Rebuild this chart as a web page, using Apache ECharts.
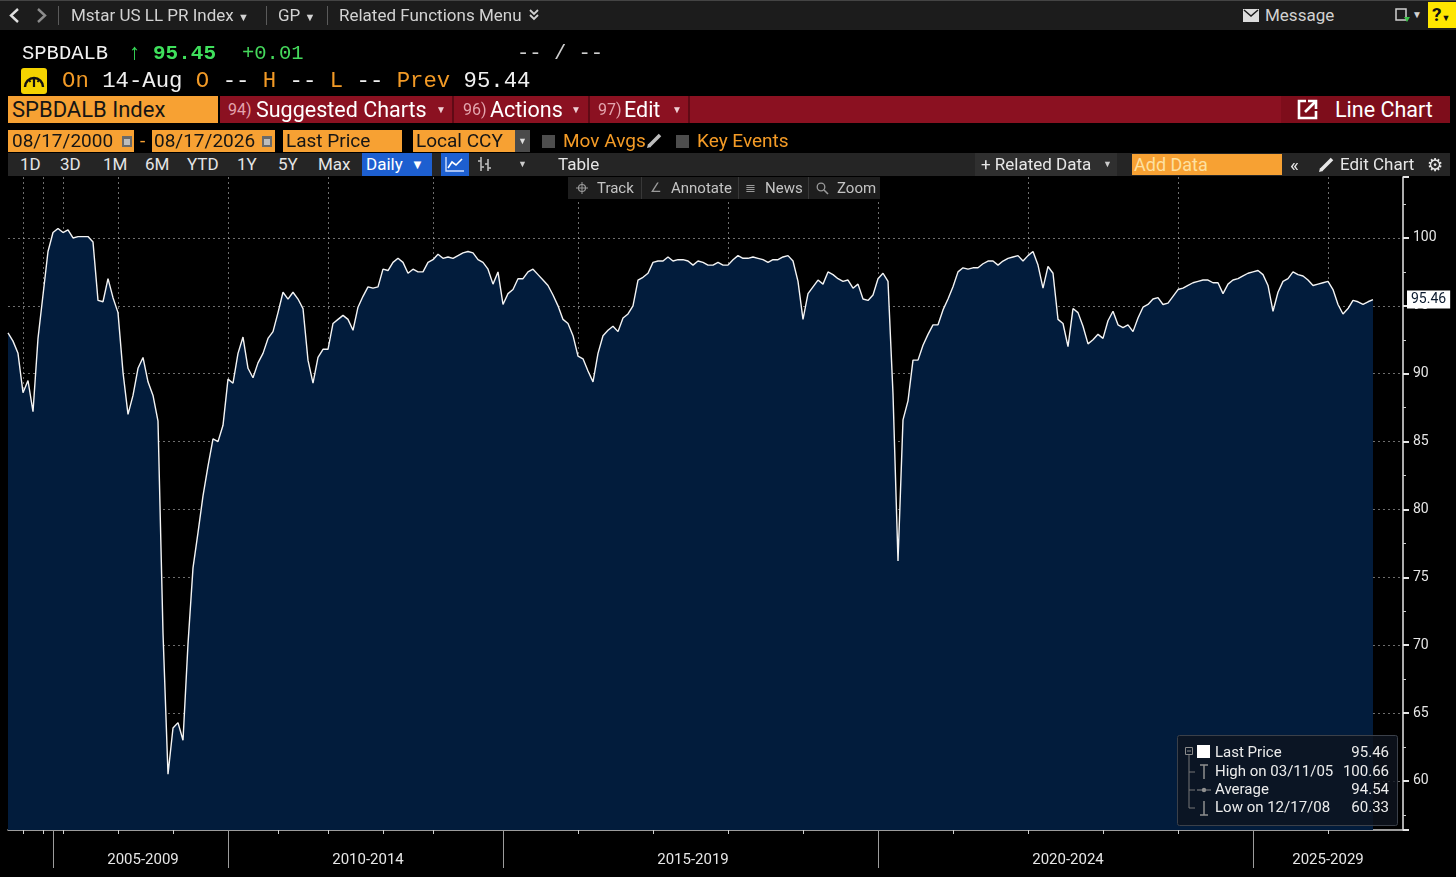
<!DOCTYPE html>
<html lang="en">
<head>
    <meta charset="UTF-8">
    <title>SPBDALB Index - Line Chart</title>
    <script src="https://cdn.jsdelivr.net/npm/echarts@6.0.0/dist/echarts.min.js"></script>
    <style>
        html, body { margin: 0; padding: 0; background: #000; }
        body { width: 1456px; height: 877px; overflow: hidden; position: relative; font-family: Roboto, 'Liberation Sans', sans-serif; }
        #chart { position: absolute; left: 0; top: 0; width: 1456px; height: 877px; }
        .ui { position: absolute; z-index: 2; }
        .t { position: absolute; z-index: 3; white-space: pre; }
        .mono { font-family: 'Liberation Mono', 'DejaVu Sans Mono', monospace; }
        .box { position: absolute; z-index: 2; box-sizing: border-box; white-space: pre; }
        .org { background: #f7a133; color: #151515; }
        .sep { position: absolute; z-index: 3; width: 1px; background: #5a5a5a; }
        .ob { color: #f29a26; }
        .wh { color: #f0f0f0; }
    </style>
</head>
<body>
<div id="chart"></div>

<!-- launchpad menu row -->
<div class="ui" style="left:0;top:0;width:1456px;height:30px;background:#1c1c1c;border-top:1px solid #444;box-sizing:border-box;"></div>
<svg class="ui" style="left:7px;top:7px" width="14" height="17"><polyline points="11,2 4,8.5 11,15" fill="none" stroke="#e0e0e0" stroke-width="2.4"/></svg>
<svg class="ui" style="left:35px;top:7px" width="14" height="17"><polyline points="3,2 10,8.5 3,15" fill="none" stroke="#8c8c8c" stroke-width="2.4"/></svg>
<div class="sep" style="left:58px;top:6px;height:19px"></div>
<span class="t" style="left:71px;top:0;line-height:30px;font-size:17px;color:#d2d2d2">Mstar US LL PR Index <span style="font-size:11px">▼</span></span>
<div class="sep" style="left:266px;top:6px;height:19px"></div>
<span class="t" style="left:278px;top:0;line-height:30px;font-size:17px;color:#d2d2d2">GP <span style="font-size:11px">▼</span></span>
<div class="sep" style="left:327px;top:6px;height:19px"></div>
<span class="t" style="left:339px;top:0;line-height:30px;font-size:17px;color:#d2d2d2">Related Functions Menu</span>
<svg class="ui" style="left:528px;top:8px" width="12" height="14"><polyline points="2,2 6,6 10,2" fill="none" stroke="#d2d2d2" stroke-width="1.8"/><polyline points="2,7 6,11 10,7" fill="none" stroke="#d2d2d2" stroke-width="1.8"/></svg>
<svg class="ui" style="left:1243px;top:9px" width="16" height="13"><rect x="0" y="0" width="16" height="13" fill="#dcdcdc"/><polyline points="1,1 8,7 15,1" fill="none" stroke="#1c1c1c" stroke-width="1.5"/></svg>
<span class="t" style="left:1265px;top:0;line-height:30px;font-size:17px;color:#d2d2d2">Message</span>
<svg class="ui" style="left:1395px;top:8px" width="16" height="15"><rect x="1" y="1" width="10" height="11" fill="none" stroke="#cfcfcf" stroke-width="1.5"/><polygon points="9,9 15,9 12,14" fill="#3cc24a"/></svg>
<span class="t" style="left:1412px;top:0;line-height:30px;font-size:10px;color:#d2d2d2">▼</span>
<div class="box" style="left:1428px;top:2px;width:28px;height:26px;background:#ffe600;color:#111;font-weight:bold;font-size:19px;line-height:26px;padding-left:4px">?<span style="font-size:9px">▼</span></div>

<!-- security line -->
<span class="t mono" style="left:22px;top:40px;line-height:28px;font-size:20.5px;color:#f2f2f2">SPBDALB</span>
<span class="t mono" style="left:128px;top:40px;line-height:28px;font-size:22px;color:#36d957">↑</span>
<span class="t mono" style="left:153px;top:40px;line-height:28px;font-size:21px;font-weight:bold;color:#3fe05c">95.45</span>
<span class="t mono" style="left:242px;top:40px;line-height:28px;font-size:20.5px;color:#45d95c">+0.01</span>
<span class="t mono" style="left:517px;top:40px;line-height:28px;font-size:20.5px;color:#cfcfcf">-- / --</span>
<div class="box" style="left:21px;top:68px;width:26px;height:26px;background:#f4d300;border-radius:3px"></div>
<svg class="ui" style="left:21px;top:68px;z-index:3" width="26" height="26"><path d="M4,19 A9,9 0 1 1 22,19" fill="none" stroke="#111" stroke-width="2.4"/><line x1="13" y1="19" x2="13" y2="9" stroke="#111" stroke-width="2.2"/><line x1="8" y1="12" x2="9.5" y2="14" stroke="#111" stroke-width="1.8"/><line x1="18" y1="12" x2="16.5" y2="14" stroke="#111" stroke-width="1.8"/></svg>
<span class="t mono" style="left:62px;top:67px;line-height:28px;font-size:22.3px"><span class="ob">On</span> <span class="wh">14-Aug</span> <span class="ob">O</span> <span class="wh">--</span> <span class="ob">H</span> <span class="wh">--</span> <span class="ob">L</span> <span class="wh">--</span> <span class="ob">Prev</span> <span class="wh">95.44</span></span>

<!-- function bar -->
<div class="box org" style="left:8px;top:96px;width:210px;height:27px;font-size:22px;line-height:27px;padding-left:4px">SPBDALB Index</div>
<div class="box" style="left:220px;top:96px;width:1230px;height:27px;background:#8b1121"></div>
<span class="t" style="left:228px;top:96px;line-height:27px;font-size:16px;color:#e3a4ad">94)</span>
<span class="t" style="left:256px;top:96px;line-height:27px;font-size:21.5px;color:#fff">Suggested Charts</span>
<span class="t" style="left:436px;top:96px;line-height:27px;font-size:10px;color:#f0d0d4">▼</span>
<div class="ui" style="left:452px;top:96px;width:2px;height:27px;background:#600a15;z-index:3"></div>
<span class="t" style="left:463px;top:96px;line-height:27px;font-size:16px;color:#e3a4ad">96)</span>
<span class="t" style="left:490px;top:96px;line-height:27px;font-size:21.5px;color:#fff">Actions</span>
<span class="t" style="left:571px;top:96px;line-height:27px;font-size:10px;color:#f0d0d4">▼</span>
<div class="ui" style="left:588px;top:96px;width:2px;height:27px;background:#600a15;z-index:3"></div>
<span class="t" style="left:598px;top:96px;line-height:27px;font-size:16px;color:#e3a4ad">97)</span>
<span class="t" style="left:624px;top:96px;line-height:27px;font-size:21.5px;color:#fff">Edit</span>
<span class="t" style="left:672px;top:96px;line-height:27px;font-size:10px;color:#f0d0d4">▼</span>
<div class="ui" style="left:688px;top:96px;width:2px;height:27px;background:#600a15;z-index:3"></div>
<div class="box" style="left:1281px;top:96px;width:169px;height:27px;background:#7e0d1b"></div>
<svg class="ui" style="left:1297px;top:99px;z-index:3" width="21" height="21"><polyline points="9,2 2,2 2,19 19,19 19,12" fill="none" stroke="#fff" stroke-width="2.6"/><line x1="8" y1="13" x2="18" y2="3" stroke="#fff" stroke-width="2.6"/><polyline points="11,2 19,2 19,10" fill="none" stroke="#fff" stroke-width="2.6"/></svg>
<span class="t" style="left:1335px;top:96px;line-height:27px;font-size:21.5px;color:#fff">Line Chart</span>

<!-- date / field row -->
<div class="box org" style="left:8px;top:130px;width:112px;height:22px;font-size:19px;line-height:22px;padding-left:4px">08/17/2000</div>
<div class="box org" style="left:120px;top:130px;width:14px;height:22px"></div>
<svg class="ui" style="left:120px;top:133px;z-index:3" width="14" height="16"><rect x="2" y="3" width="10" height="11" fill="#6a6a6a"/><rect x="4" y="6" width="6" height="6" fill="#bdbdbd"/></svg>
<span class="t" style="left:140px;top:130px;line-height:22px;font-size:19px;color:#f7a133">-</span>
<div class="box org" style="left:152px;top:130px;width:108px;height:22px;font-size:19px;line-height:22px;padding-left:2px">08/17/2026</div>
<div class="box org" style="left:260px;top:130px;width:15px;height:22px"></div>
<svg class="ui" style="left:260px;top:133px;z-index:3" width="14" height="16"><rect x="2" y="3" width="10" height="11" fill="#6a6a6a"/><rect x="4" y="6" width="6" height="6" fill="#bdbdbd"/></svg>
<div class="box org" style="left:283px;top:130px;width:119px;height:22px;font-size:19px;line-height:22px;padding-left:3px">Last Price</div>
<div class="box org" style="left:413px;top:130px;width:102px;height:22px;font-size:19px;line-height:22px;padding-left:3px">Local CCY</div>
<div class="box" style="left:515px;top:130px;width:15px;height:22px;background:#4a4a4a;color:#ddd;font-size:9px;line-height:22px;text-align:center">▼</div>
<div class="box" style="left:542px;top:135px;width:13px;height:13px;background:#4d4d4d"></div>
<span class="t" style="left:563px;top:130px;line-height:22px;font-size:19px;color:#f49b26">Mov Avgs</span>
<svg class="ui" style="left:646px;top:132px" width="17" height="17"><line x1="3" y1="14" x2="14" y2="3" stroke="#bdbdbd" stroke-width="3.5"/><polygon points="1,16 2,12 5,15" fill="#bdbdbd"/></svg>
<div class="box" style="left:676px;top:135px;width:13px;height:13px;background:#4d4d4d"></div>
<span class="t" style="left:697px;top:130px;line-height:22px;font-size:19px;color:#f49b26">Key Events</span>

<!-- range / tool row -->
<div class="box" style="left:8px;top:153px;width:1442px;height:23px;background:#252525"></div>
<span class="t" style="left:20px;top:153px;line-height:23px;font-size:17px;color:#e6e6e6">1D</span>
<span class="t" style="left:60px;top:153px;line-height:23px;font-size:17px;color:#e6e6e6">3D</span>
<span class="t" style="left:103px;top:153px;line-height:23px;font-size:17px;color:#e6e6e6">1M</span>
<span class="t" style="left:145px;top:153px;line-height:23px;font-size:17px;color:#e6e6e6">6M</span>
<span class="t" style="left:187px;top:153px;line-height:23px;font-size:17px;color:#e6e6e6">YTD</span>
<span class="t" style="left:237px;top:153px;line-height:23px;font-size:17px;color:#e6e6e6">1Y</span>
<span class="t" style="left:278px;top:153px;line-height:23px;font-size:17px;color:#e6e6e6">5Y</span>
<span class="t" style="left:318px;top:153px;line-height:23px;font-size:17px;color:#e6e6e6">Max</span>
<div class="box" style="left:362px;top:153px;width:70px;height:23px;background:#1d5fd0"></div>
<span class="t" style="left:366px;top:153px;line-height:23px;font-size:17px;color:#fff">Daily</span>
<span class="t" style="left:411px;top:153px;line-height:23px;font-size:13px;color:#fff">▼</span>
<div class="box" style="left:441px;top:153px;width:28px;height:23px;background:#1d5fd0"></div>
<svg class="ui" style="left:444px;top:155px;z-index:3" width="22" height="18"><polyline points="2,2 2,16 20,16" fill="none" stroke="#cfe0ff" stroke-width="1.4"/><polyline points="4,13 8,7 12,10 18,4" fill="none" stroke="#fff" stroke-width="1.6"/></svg>
<svg class="ui" style="left:477px;top:155px;z-index:3" width="16" height="18"><line x1="4" y1="2" x2="4" y2="16" stroke="#bbb" stroke-width="1.6"/><line x1="11" y1="4" x2="11" y2="16" stroke="#bbb" stroke-width="1.6"/><line x1="1" y1="6" x2="4" y2="6" stroke="#bbb" stroke-width="1.6"/><line x1="4" y1="12" x2="7" y2="12" stroke="#bbb" stroke-width="1.6"/><line x1="8" y1="9" x2="11" y2="9" stroke="#bbb" stroke-width="1.6"/><line x1="11" y1="13" x2="14" y2="13" stroke="#bbb" stroke-width="1.6"/></svg>
<span class="t" style="left:518px;top:153px;line-height:23px;font-size:9px;color:#ccc">▼</span>
<span class="t" style="left:558px;top:153px;line-height:23px;font-size:17px;color:#e6e6e6">Table</span>
<div class="box" style="left:975px;top:153px;width:142px;height:23px;background:#2f2f2f"></div>
<span class="t" style="left:981px;top:153px;line-height:23px;font-size:17px;color:#e6e6e6">+ Related Data</span>
<span class="t" style="left:1103px;top:153px;line-height:23px;font-size:9px;color:#ccc">▼</span>
<div class="box" style="left:1132px;top:154px;width:150px;height:21px;background:#f7a133;color:#fde0a0;font-size:18px;line-height:21px;padding-left:2px">Add Data</div>
<span class="t" style="left:1290px;top:153px;line-height:23px;font-size:19px;color:#e6e6e6">«</span>
<svg class="ui" style="left:1318px;top:156px;z-index:3" width="17" height="17"><line x1="3" y1="14" x2="14" y2="3" stroke="#e6e6e6" stroke-width="3.5"/><polygon points="1,16 2,12 5,15" fill="#e6e6e6"/></svg>
<span class="t" style="left:1340px;top:153px;line-height:23px;font-size:17px;color:#e6e6e6">Edit Chart</span>
<span class="t" style="left:1427px;top:153px;line-height:23px;font-size:18px;color:#e6e6e6">⚙</span>

<!-- chart tools overlay -->
<div class="box" style="left:568px;top:177px;width:312px;height:22px;background:#1e1e1e"></div>
<div class="sep" style="left:641px;top:177px;height:22px;background:#383838"></div>
<div class="sep" style="left:738px;top:177px;height:22px;background:#383838"></div>
<div class="sep" style="left:808px;top:177px;height:22px;background:#383838"></div>
<svg class="ui" style="left:576px;top:182px;z-index:3" width="12" height="12"><circle cx="6" cy="6" r="3.5" fill="none" stroke="#9a9a9a" stroke-width="1.2"/><line x1="6" y1="0" x2="6" y2="12" stroke="#9a9a9a"/><line x1="0" y1="6" x2="12" y2="6" stroke="#9a9a9a"/></svg>
<span class="t" style="left:597px;top:177px;line-height:22px;font-size:15px;color:#c4c4c4">Track</span>
<span class="t" style="left:650px;top:177px;line-height:22px;font-size:13px;color:#9a9a9a">∠</span>
<span class="t" style="left:671px;top:177px;line-height:22px;font-size:15px;color:#c4c4c4">Annotate</span>
<span class="t" style="left:745px;top:177px;line-height:22px;font-size:13px;color:#9a9a9a">≣</span>
<span class="t" style="left:765px;top:177px;line-height:22px;font-size:15px;color:#c4c4c4">News</span>
<svg class="ui" style="left:816px;top:182px;z-index:3" width="13" height="13"><circle cx="5" cy="5" r="3.8" fill="none" stroke="#9a9a9a" stroke-width="1.3"/><line x1="8" y1="8" x2="12" y2="12" stroke="#9a9a9a" stroke-width="1.6"/></svg>
<span class="t" style="left:837px;top:177px;line-height:22px;font-size:15px;color:#c4c4c4">Zoom</span>

<script type="text/javascript">

    // Morningstar LSTA US Leveraged Loan Price Index, samples per calendar year
    // (Bloomberg spaces the axis by observation, so later years hold more samples)
    var y2000 = [93.0];
    var y2001 = [92.4, 91.5];
    var y2002 = [88.6, 89.5];
    var y2003 = [87.2, 92.6];
    var y2004 = [95.8, 99.0];
    var y2005 = [100.4, 100.7];
    var y2006 = [100.4, 100.6, 100.0];
    var y2007 = [100.1, 100.1, 100.1, 99.7, 95.4, 95.3, 97.0, 95.6];
    var y2008 = [94.5, 90.1, 87.0, 88.4, 90.4, 91.2, 89.4, 88.4, 86.5, 70.9, 60.5];
    var y2009 = [63.9, 64.3, 63.0, 70.1, 75.7, 78.3, 81.0, 83.2, 85.2, 85.0, 86.2];
    var y2010 = [89.6, 89.3, 91.5, 92.7, 90.4, 89.7, 90.8, 91.5, 92.6, 93.1];
    var y2011 = [94.5, 96.0, 95.5, 96.0, 95.5, 94.8, 91.0, 89.3, 91.2, 91.8];
    var y2012 = [91.8, 93.7, 94.0, 94.3, 94.0, 93.2, 94.9, 95.7, 96.4, 96.3, 96.4];
    var y2013 = [97.7, 97.6, 98.2, 98.5, 98.2, 97.4, 97.7, 97.5, 97.5, 98.2];
    var y2014 = [98.4, 98.8, 98.5, 98.6, 98.5, 98.7, 98.9, 99.0, 98.9, 98.4, 98.2, 97.7, 96.6, 97.5];
    var y2015 = [95.1, 95.9, 96.2, 97.0, 97.0, 97.5, 97.7, 97.3, 96.9, 96.5, 95.8, 95.0, 94.0, 93.7, 92.8];
    var y2016 = [91.3, 91.1, 90.2, 89.4, 91.5, 92.8, 93.2, 93.5, 93.1, 94.1, 94.4, 95.0, 96.9, 97.1, 97.4];
    var y2017 = [98.2, 98.3, 98.3, 98.6, 98.3, 98.4, 98.4, 98.3, 98.0, 98.3, 98.2, 98.0, 98.0, 98.2, 98.0];
    var y2018 = [98.0, 98.4, 98.7, 98.5, 98.5, 98.6, 98.5, 98.4, 98.2, 98.4, 98.4, 98.6, 98.7, 98.3, 96.8];
    var y2019 = [94.0, 95.9, 96.4, 96.9, 96.6, 97.5, 97.3, 97.0, 96.8, 96.9, 96.3, 96.6, 95.5, 95.4, 95.8];
    var y2020 = [97.0, 97.4, 96.8, 88.5, 76.2, 86.6, 88.0, 91.0, 91.0, 92.1, 92.9, 93.6, 93.6, 94.7, 95.5];
    var y2021 = [96.4, 97.5, 97.8, 97.7, 97.8, 97.8, 98.1, 98.3, 98.3, 98.0, 98.3, 98.5, 98.6, 98.7, 98.3];
    var y2022 = [98.7, 99.0, 98.0, 96.3, 97.9, 97.4, 94.0, 93.7, 92.0, 94.8, 94.5, 93.5, 92.2, 92.5, 92.9];
    var y2023 = [92.6, 93.9, 94.6, 93.6, 93.4, 93.6, 93.1, 94.1, 94.9, 95.1, 95.5, 95.6, 95.1, 95.2, 95.7];
    var y2024 = [96.2, 96.3, 96.5, 96.7, 96.8, 96.9, 96.9, 96.7, 96.7, 95.9, 96.6, 96.9, 97.0, 97.2, 97.4];
    var y2025 = [97.5, 97.6, 97.3, 96.5, 94.6, 96.0, 96.8, 97.0, 97.5, 97.3, 97.2, 96.9, 96.5, 96.6, 96.7];
    var y2026 = [96.8, 96.2, 95.1, 94.4, 94.8, 95.4, 95.3, 95.1, 95.3, 95.46];

    var years = [2000, 2001, 2002, 2003, 2004, 2005, 2006, 2007, 2008, 2009, 2010, 2011, 2012, 2013,
        2014, 2015, 2016, 2017, 2018, 2019, 2020, 2021, 2022, 2023, 2024, 2025, 2026];
    var yearValues = [y2000, y2001, y2002, y2003, y2004, y2005, y2006, y2007, y2008, y2009, y2010, y2011,
        y2012, y2013, y2014, y2015, y2016, y2017, y2018, y2019, y2020, y2021, y2022, y2023, y2024, y2025, y2026];

    // x axis period labels
    var periodStarts = [2005, 2010, 2015, 2020, 2025];
    var periodLabels = ['2005-2009', '2010-2014', '2015-2019', '2020-2024', '2025-2029'];

    // legend box rows
    var legendNames = ['Last Price', 'High on 03/11/05', 'Average', 'Low on 12/17/08'];
    var legendValues = ['95.46', '100.66', '94.54', '60.33'];

    // empty slots after the last print (axis runs on to 08/17/2026)
    var emptyTail = 6;

    var categories = [];
    var prices = [];
    var yearStart = {};
    for (var k = 0; k < years.length; k++) {
        yearStart[years[k]] = categories.length;
        for (var j = 0; j < yearValues[k].length; j++) {
            categories.push(years[k] + '/' + (j + 1));
            prices.push(yearValues[k][j]);
        }
    }
    var lastIdx = prices.length - 1;
    for (var e = 0; e < emptyTail; e++) {
        categories.push('2026/' + (y2026.length + e + 1));
        prices.push(null);
    }

    var gridIdx = {}, tickIdx = {}, sepIdx = {}, labelAt = {};
    years.forEach(function (yr) {
        var s = yearStart[yr];
        if (yr >= 2002 && yr % 2 === 0) gridIdx[s] = true;
        if (yr >= 2002 && (yr % 2 === 0 || yr >= 2008) && yr % 5 !== 0) tickIdx[s] = true;
        if (yr >= 2010 && yr % 5 === 0) tickIdx[s] = true;
    });
    periodStarts.forEach(function (p, n) {
        var s = yearStart[p];
        var end = yearStart[p + 5] !== undefined ? yearStart[p + 5] : categories.length - 1;
        sepIdx[s] = true;
        labelAt[Math.round((s + end) / 2)] = periodLabels[n];
    });

    var gridDash = {color: 'rgba(200,200,200,0.55)', type: [2, 3], width: 1};
    var textFont = 'Roboto, "Liberation Sans", sans-serif';

    var legendGraphics = [
        {type: 'rect', shape: {x: 1177.5, y: 735.5, width: 220, height: 90, r: 2},
            style: {fill: 'rgba(14,20,30,0.82)', stroke: '#3b4049', lineWidth: 1}},
        {type: 'rect', shape: {x: 1185.5, y: 747.5, width: 7, height: 7},
            style: {fill: 'none', stroke: '#8a8a8a', lineWidth: 1}},
        {type: 'line', shape: {x1: 1187, y1: 751, x2: 1191, y2: 751}, style: {stroke: '#8a8a8a'}},
        {type: 'line', shape: {x1: 1189, y1: 755, x2: 1189, y2: 808}, style: {stroke: '#777', lineWidth: 1}},
        {type: 'line', shape: {x1: 1189, y1: 772, x2: 1195, y2: 772}, style: {stroke: '#777'}},
        {type: 'line', shape: {x1: 1189, y1: 790, x2: 1195, y2: 790}, style: {stroke: '#777'}},
        {type: 'line', shape: {x1: 1189, y1: 808, x2: 1195, y2: 808}, style: {stroke: '#777'}},
        {type: 'rect', shape: {x: 1197, y: 745, width: 13, height: 13}, style: {fill: '#ffffff'}},
        {type: 'line', shape: {x1: 1200, y1: 765, x2: 1208, y2: 765}, style: {stroke: '#8f8f8f', lineWidth: 1.5}},
        {type: 'line', shape: {x1: 1204, y1: 765, x2: 1204, y2: 779}, style: {stroke: '#8f8f8f', lineWidth: 1.5}},
        {type: 'line', shape: {x1: 1197, y1: 790, x2: 1211, y2: 790}, style: {stroke: '#8f8f8f', lineWidth: 1}},
        {type: 'circle', shape: {cx: 1204, cy: 790, r: 2.2}, style: {fill: '#8f8f8f'}},
        {type: 'line', shape: {x1: 1204, y1: 801, x2: 1204, y2: 815}, style: {stroke: '#8f8f8f', lineWidth: 1.5}},
        {type: 'line', shape: {x1: 1200, y1: 815, x2: 1208, y2: 815}, style: {stroke: '#8f8f8f', lineWidth: 1.5}}
    ];
    var rowY = [753, 772, 790, 808];
    legendNames.forEach(function (name, n) {
        legendGraphics.push({type: 'text', x: 1215, y: rowY[n],
            style: {text: name, fill: '#ececec', font: '15px ' + textFont, verticalAlign: 'middle', align: 'left'}});
        legendGraphics.push({type: 'text', x: 1389, y: rowY[n],
            style: {text: legendValues[n], fill: '#ececec', font: '15px ' + textFont, verticalAlign: 'middle', align: 'right'}});
    });
    // keep the legend box above the filled series
    legendGraphics.forEach(function (g, n) { g.z = 100 + n; });

    var chartDom = document.getElementById('chart');
    var myChart = echarts.init(chartDom);
    var option = {
        backgroundColor: '#000',
        animation: false,
        textStyle: {fontFamily: textFont},
        grid: {left: 8, right: 53, top: 177, bottom: 47, containLabel: false, outerBoundsMode: 'none'},
        xAxis: [
            {
                type: 'category',
                data: categories,
                boundaryGap: false,
                position: 'bottom',
                axisLine: {show: true, onZero: false, lineStyle: {color: '#d0d0d0', width: 1.5}},
                axisTick: {show: true, length: 4, interval: function (i) { return !!tickIdx[i]; },
                    lineStyle: {color: '#d0d0d0'}},
                axisLabel: {
                    interval: function (i) { return labelAt[i] !== undefined; },
                    formatter: function (v, i) { return labelAt[i] || ''; },
                    color: '#e6e6e6', fontSize: 15, margin: 23
                },
                splitLine: {show: true, interval: function (i) { return !!gridIdx[i]; }, lineStyle: gridDash}
            },
            {
                type: 'category',
                data: categories,
                boundaryGap: false,
                position: 'bottom',
                axisLine: {show: false, onZero: false},
                axisLabel: {show: false},
                splitLine: {show: false},
                axisTick: {show: true, length: 38, interval: function (i) { return !!sepIdx[i]; },
                    lineStyle: {color: '#9c9c9c', width: 1}}
            }
        ],
        yAxis: {
            type: 'value',
            position: 'right',
            min: 56.39,
            max: 104.49,
            splitNumber: 10,
            minInterval: 5,
            maxInterval: 5,
            axisLine: {show: true, lineStyle: {color: '#e6e6e6', width: 1.5}},
            axisTick: {show: true, length: 6, lineStyle: {color: '#e6e6e6', width: 2}},
            minorTick: {show: true, splitNumber: 2, length: 3, lineStyle: {color: '#cfcfcf'}},
            axisLabel: {
                color: '#e6e6e6', fontSize: 14, margin: 10,
                formatter: function (v) { return Math.abs(v % 5) < 1e-6 ? String(v) : ''; }
            },
            splitLine: {show: true, showMinLine: false, showMaxLine: false, lineStyle: gridDash}
        },
        series: [
            {
                name: 'Last Price',
                type: 'line',
                data: prices,
                showSymbol: false,
                symbol: 'none',
                clip: false,
                connectNulls: false,
                lineStyle: {color: '#f4f4f4', width: 1.4},
                areaStyle: {color: '#021c3c', opacity: 1, origin: 'start'},
                markLine: {
                    silent: true,
                    symbol: 'none',
                    z: 50,
                    data: [{yAxis: prices[lastIdx]}],
                    lineStyle: {color: 'rgba(0,0,0,0)', width: 1, type: 'solid'},
                    label: {
                        show: true,
                        position: 'end', distance: 4,
                        formatter: prices[lastIdx].toFixed(2),
                        backgroundColor: '#ffffff', color: '#0b1a2e', opacity: 1,
                        padding: [2, 4, 2, 4], fontSize: 14
                    }
                }
            }
        ],
        graphic: legendGraphics
    };
    myChart.setOption(option);
</script>
</body>
</html>
